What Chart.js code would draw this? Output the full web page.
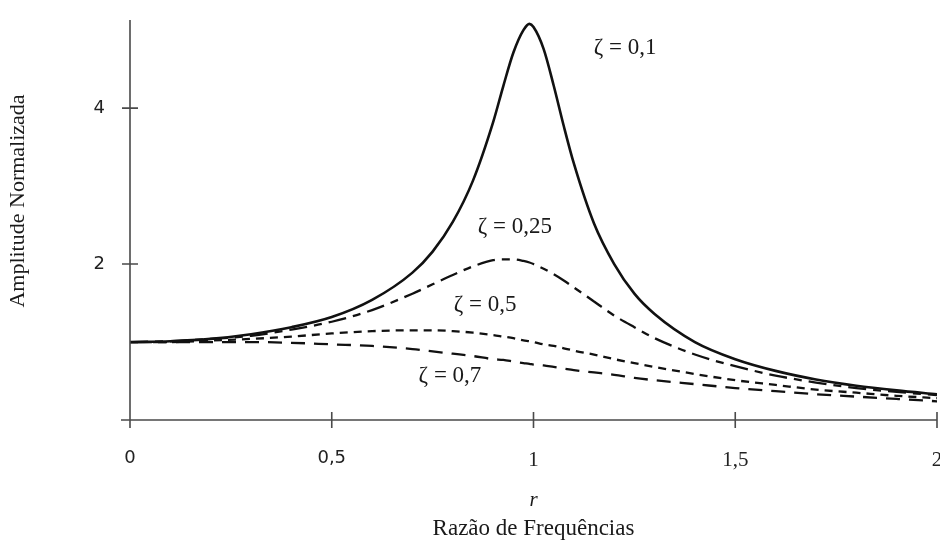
<!DOCTYPE html>
<html>
<head>
<meta charset="utf-8">
<script src="https://cdn.jsdelivr.net/npm/chart.js@4/dist/chart.umd.min.js"></script>
<style>
  html, body { margin: 0; padding: 0; background: #fff; overflow: hidden; }
  #wrap { width: 940px; height: 544px; overflow: hidden; }
</style>
</head>
<body>
<div id="wrap"><canvas id="chart" width="960" height="544"></canvas></div>
<script>
// razao de frequencias r
var r = [0, 0.1, 0.2, 0.3, 0.4, 0.5, 0.6, 0.7, 0.75, 0.8, 0.85, 0.9, 0.925, 0.95, 0.975, 0.99,
         1.0, 1.025, 1.05, 1.075, 1.1, 1.15, 1.2, 1.25, 1.3, 1.4, 1.5, 1.6, 1.7, 1.8, 1.9, 2.0];

// amplitude normalizada
var zeta01  = [1.00, 1.01, 1.04, 1.10, 1.19, 1.32, 1.54, 1.89, 2.16, 2.54, 3.07, 3.82, 4.28, 4.71, 5.00, 5.08,
               5.04, 4.76, 4.29, 3.77, 3.29, 2.52, 2.00, 1.62, 1.36, 1.00, 0.78, 0.63, 0.52, 0.44, 0.38, 0.33];
var zeta025 = [1.00, 1.01, 1.04, 1.08, 1.16, 1.26, 1.41, 1.62, 1.74, 1.86, 1.97, 2.05, 2.06, 2.06, 2.04, 2.02,
               2.00, 1.94, 1.87, 1.79, 1.70, 1.52, 1.34, 1.19, 1.05, 0.84, 0.69, 0.57, 0.48, 0.41, 0.36, 0.32];
var zeta05  = [1.00, 1.00, 1.02, 1.04, 1.07, 1.11, 1.14, 1.15, 1.15, 1.14, 1.12, 1.09, 1.07, 1.05, 1.02, 1.01,
               1.00, 0.97, 0.95, 0.92, 0.89, 0.84, 0.78, 0.73, 0.68, 0.59, 0.51, 0.45, 0.39, 0.35, 0.31, 0.28];
var zeta07  = [1.00, 1.00, 1.00, 1.00, 0.99, 0.97, 0.95, 0.91, 0.88, 0.85, 0.82, 0.78, 0.77, 0.75, 0.73, 0.72,
               0.71, 0.70, 0.68, 0.66, 0.64, 0.61, 0.58, 0.54, 0.51, 0.46, 0.41, 0.37, 0.33, 0.30, 0.27, 0.24];

var xTicks = [0, 0.5, 1, 1.5, 2];
var yTicks = [2, 4];

// rotulos das curvas [texto, x, y]
var curveLabels = [
        ["\u03B6 = 0,1",  1.227, 4.77],
        ["\u03B6 = 0,25", 0.954, 2.47],
        ["\u03B6 = 0,5",  0.880, 1.47],
        ["\u03B6 = 0,7",  0.793, 0.56]
];

function pts(ys) {
        var out = [];
        for (var i = 0; i < r.length; i++) {
                out.push({x: r[i], y: ys[i]});
        }
        return out;
}

function comma(v) {
        return String(v).replace(".", ",");
}

var SERIF = "'Liberation Serif', 'Times New Roman', serif";
var SANS  = "'DejaVu Sans', sans-serif";

var axesPlugin = {
        id: "axesDraw",
        afterDraw: function(chart) {
                var ctx = chart.ctx;
                var xs = chart.scales.x, ys = chart.scales.y;
                var a = chart.chartArea;
                var x0 = xs.getPixelForValue(0), y0 = ys.getPixelForValue(0);
                ctx.save();
                ctx.strokeStyle = "#4a4a4a";
                ctx.lineWidth = 1.6;
                ctx.beginPath();
                ctx.moveTo(x0, a.top);
                ctx.lineTo(x0, y0 + 8);
                ctx.moveTo(x0 - 9, y0);
                ctx.lineTo(a.right, y0);
                for (var i = 0; i < xTicks.length; i++) {
                        if (xTicks[i] === 0) continue;
                        var px = xs.getPixelForValue(xTicks[i]);
                        ctx.moveTo(px, y0 - 8);
                        ctx.lineTo(px, y0 + 8);
                }
                for (var j = 0; j < yTicks.length; j++) {
                        var py = ys.getPixelForValue(yTicks[j]);
                        ctx.moveTo(x0 - 8, py);
                        ctx.lineTo(x0 + 8, py);
                }
                ctx.stroke();

                ctx.fillStyle = "#1a1a1a";
                ctx.textAlign = "center";
                ctx.textBaseline = "middle";
                ctx.font = "23px " + SERIF;
                for (var k = 0; k < curveLabels.length; k++) {
                        var l = curveLabels[k];
                        ctx.fillText(l[0], xs.getPixelForValue(l[1]), ys.getPixelForValue(l[2]));
                }

                ctx.font = "italic 21px " + SERIF;
                ctx.fillText("r", xs.getPixelForValue(1), y0 + 80);

                ctx.font = "22px " + SERIF;
                ctx.translate(18, 201);
                ctx.rotate(-Math.PI / 2);
                ctx.fillText("Amplitude Normalizada", 0, 0);
                ctx.restore();
        }
};

var style = [
        {data: zeta01,  dash: [],            w: 2.6},
        {data: zeta025, dash: [18, 7, 8, 7], w: 2.3},
        {data: zeta05,  dash: [8, 6],        w: 2.3},
        {data: zeta07,  dash: [14, 9],       w: 2.3}
];

var datasets = [];
for (var s = 0; s < style.length; s++) {
        datasets.push({
                data: pts(style[s].data),
                borderColor: "#111",
                borderWidth: style[s].w,
                borderDash: style[s].dash,
                pointRadius: 0,
                fill: false,
                cubicInterpolationMode: "monotone"
        });
}

// tick marks are drawn by the plugin; the invisible grid tick only pushes labels out
function hiddenGrid(len) {
        return {
                display: true,
                drawOnChartArea: false,
                drawTicks: true,
                tickLength: len,
                color: "rgba(0,0,0,0)"
        };
}

var MyChart = new Chart(document.getElementById("chart"), {
        type: "line",
        data: {datasets: datasets},
        plugins: [axesPlugin],
        options: {
                responsive: false,
                animation: false,
                layout: {padding: {left: 0, top: 20, right: 23, bottom: 0}},
                plugins: {legend: {display: false}, tooltip: {enabled: false}},
                scales: {
                        x: {
                                type: "linear",
                                min: 0,
                                max: 2,
                                grid: hiddenGrid(28),
                                border: {display: false},
                                afterBuildTicks: function(sc) {
                                        sc.ticks = xTicks.map(function(v) { return {value: v}; });
                                },
                                afterFit: function(sc) { sc.height = 124; },
                                ticks: {
                                        padding: 0,
                                        maxRotation: 0,
                                        color: "#222",
                                        callback: function(v) { return comma(v); },
                                        font: function(c) {
                                                if (c.tick && c.tick.value >= 1) {
                                                        return {family: SERIF, size: 21};
                                                }
                                                return {family: SANS, size: 18};
                                        }
                                },
                                title: {
                                        display: true,
                                        text: "Razão de Frequências",
                                        color: "#1a1a1a",
                                        font: {family: SERIF, size: 23},
                                        padding: {top: 0, bottom: 1}
                                }
                        },
                        y: {
                                type: "linear",
                                min: 0,
                                max: 5.13,
                                grid: hiddenGrid(25),
                                border: {display: false},
                                afterBuildTicks: function(sc) {
                                        sc.ticks = yTicks.map(function(v) { return {value: v}; });
                                },
                                afterFit: function(sc) { sc.width = 130; },
                                ticks: {
                                        padding: 0,
                                        color: "#222",
                                        font: {family: SANS, size: 18},
                                        callback: function(v) { return comma(v); }
                                }
                        }
                }
        }
});
</script>
</body>
</html>
